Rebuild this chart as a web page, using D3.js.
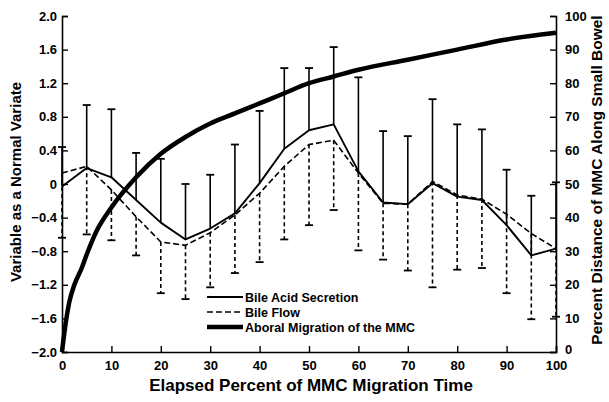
<!DOCTYPE html>
<html>
<head>
<meta charset="utf-8">
<script src="https://cdn.jsdelivr.net/npm/d3@7"></script>
<style>
  body { margin: 0; background: #fff; }
  svg text { font-family: "Liberation Sans", Arial, sans-serif; font-weight: bold; fill: #000; }
</style>
</head>
<body>
<div id="chart"></div>
<script>
"use strict";
// elapsed percent of MMC migration time
var elapsed = [0, 5, 10, 15, 20, 25, 30, 35, 40, 45, 50, 55, 60, 65, 70, 75, 80, 85, 90, 95, 100];
// bile acid secretion (normal variate) and top of its error bar
var bileAcid = [-0.03, 0.19, 0.08, -0.19, -0.46, -0.66, -0.53, -0.35, 0.01, 0.42, 0.64, 0.71, 0.15, -0.22, -0.24, 0.01, -0.15, -0.19, -0.49, -0.85, -0.77];
var bileAcidUpper = [0.44, 0.94, 0.89, 0.37, 0.30, 0.00, 0.11, 0.47, 0.87, 1.38, 1.38, 1.63, 1.27, 0.63, 0.57, 1.01, 0.71, 0.65, 0.17, -0.14, 0.02];
// bile flow (normal variate) and bottom of its error bar
var bileFlow = [0.13, 0.21, -0.07, -0.39, -0.69, -0.73, -0.58, -0.37, -0.11, 0.21, 0.47, 0.52, 0.13, -0.23, -0.24, 0.03, -0.13, -0.18, -0.36, -0.59, -0.77];
var bileFlowLower = [-0.64, -0.60, -0.67, -0.85, -1.30, -1.37, -1.23, -1.06, -0.93, -0.66, -0.49, -0.31, -0.79, -0.90, -1.03, -1.23, -1.02, -1.00, -1.30, -1.61, -1.58];
// aboral migration of the MMC (percent distance along small bowel)
var mmcTime = [0, 0.5, 1.5, 2.5, 4, 5, 7, 10, 15, 20, 25, 30, 35, 40, 45, 50, 55, 60, 70, 80, 90, 100];
var mmcDistance = [0, 6, 15, 20, 25, 29, 36, 43, 52, 59, 64, 68, 71, 74, 77, 80, 82, 84, 87, 90, 93, 95];

var leftTicks = [-2.0, -1.6, -1.2, -0.8, -0.4, 0, 0.4, 0.8, 1.2, 1.6, 2.0];
var rightTicks = [0, 10, 20, 30, 40, 50, 60, 70, 80, 90, 100];
var xTicks = [0, 10, 20, 30, 40, 50, 60, 70, 80, 90, 100];
var legendLabels = ["Bile Acid Secretion", "Bile Flow", "Aboral Migration of the MMC"];

var width = 609, height = 402;
var svg = d3.select("#chart").append("svg")
    .attr("width", width).attr("height", height);

var x = d3.scaleLinear().domain([0, 100]).range([62, 556]);
var yL = d3.scaleLinear().domain([-2, 2]).range([352, 16]);
var yR = d3.scaleLinear().domain([0, 100]).range([352, 16]);

// axes (ticks point inward)
var fmtL = function (d) { return d === 0 ? "0" : d3.format(".1f")(d); };
var axL = svg.append("g").attr("transform", "translate(62,0)")
    .call(d3.axisRight(yL).tickValues(leftTicks).tickSize(6).tickFormat(fmtL));
axL.selectAll("text").attr("x", -5).attr("text-anchor", "end");

var axR = svg.append("g").attr("transform", "translate(556,0)")
    .call(d3.axisLeft(yR).tickValues(rightTicks).tickSize(6));
axR.selectAll("text").attr("x", 9).attr("text-anchor", "start");
axR.selectAll("text").filter(function (d) { return d === 0; }).attr("dy", "0.1em");

var axB = svg.append("g").attr("transform", "translate(0,352)")
    .call(d3.axisTop(x).tickValues(xTicks).tickSize(6));
axB.selectAll("text").attr("y", 18).attr("dy", "0");

[axL, axR, axB].forEach(function (a) {
    a.select(".domain").attr("stroke", "#000").attr("stroke-width", 1.6);
    a.selectAll(".tick line").attr("stroke", "#000").attr("stroke-width", 1.4);
    a.selectAll("text").style("font-size", "13px").attr("fill", "#000");
});

// error bars: solid up from bile acid, dashed down from bile flow
var capW = 4;
var bars = svg.append("g");
elapsed.forEach(function (t, i) {
    bars.append("line")
        .attr("x1", x(t)).attr("x2", x(t))
        .attr("y1", yL(bileAcid[i])).attr("y2", yL(bileAcidUpper[i]))
        .attr("stroke", "#000").attr("stroke-width", 1.6);
    bars.append("line")
        .attr("x1", x(t) - capW).attr("x2", x(t) + capW)
        .attr("y1", yL(bileAcidUpper[i])).attr("y2", yL(bileAcidUpper[i]))
        .attr("stroke", "#000").attr("stroke-width", 1.8);
    bars.append("line")
        .attr("x1", x(t)).attr("x2", x(t))
        .attr("y1", yL(bileFlow[i])).attr("y2", yL(bileFlowLower[i]))
        .attr("stroke", "#000").attr("stroke-width", 1.6)
        .attr("stroke-dasharray", "4,3");
    bars.append("line")
        .attr("x1", x(t) - capW).attr("x2", x(t) + capW)
        .attr("y1", yL(bileFlowLower[i])).attr("y2", yL(bileFlowLower[i]))
        .attr("stroke", "#000").attr("stroke-width", 1.8);
});

// series lines (straight segments between the 5% points)
var lineAcid = d3.line().x(function (d, i) { return x(elapsed[i]); }).y(function (d) { return yL(d); });
svg.append("path").datum(bileAcid)
    .attr("d", lineAcid).attr("fill", "none")
    .attr("stroke", "#000").attr("stroke-width", 1.9).attr("stroke-linejoin", "round");
svg.append("path").datum(bileFlow)
    .attr("d", lineAcid).attr("fill", "none")
    .attr("stroke", "#000").attr("stroke-width", 1.6)
    .attr("stroke-dasharray", "6,3");

var lineMmc = d3.line().x(function (d, i) { return x(mmcTime[i]); }).y(function (d) { return yR(d); })
    .curve(d3.curveMonotoneX);
svg.append("path").datum(mmcDistance)
    .attr("d", lineMmc).attr("fill", "none")
    .attr("stroke", "#000").attr("stroke-width", 4.5);

// legend
var legendStyle = [{w: 1.8, dash: null}, {w: 1.6, dash: "6,3"}, {w: 4.5, dash: null}];
var lg = svg.append("g").attr("transform", "translate(207,297)");
legendLabels.forEach(function (lab, i) {
    lg.append("line")
        .attr("x1", 0).attr("x2", 36).attr("y1", i * 15).attr("y2", i * 15)
        .attr("stroke", "#000").attr("stroke-width", legendStyle[i].w)
        .attr("stroke-dasharray", legendStyle[i].dash);
    lg.append("text")
        .attr("x", 38).attr("y", i * 15 + 4.5)
        .style("font-size", "12.5px").text(lab);
});

// axis titles
svg.append("text")
    .attr("x", 311).attr("y", 391).attr("text-anchor", "middle")
    .style("font-size", "17px").text("Elapsed Percent of MMC Migration Time");
svg.append("text")
    .attr("transform", "translate(21,182) rotate(-90)").attr("text-anchor", "middle")
    .style("font-size", "15px").text("Variable as a Normal Variate");
svg.append("text")
    .attr("transform", "translate(602,180) rotate(-90)").attr("text-anchor", "middle")
    .style("font-size", "15.5px").text("Percent Distance of MMC Along Small Bowel");
</script>
</body>
</html>
